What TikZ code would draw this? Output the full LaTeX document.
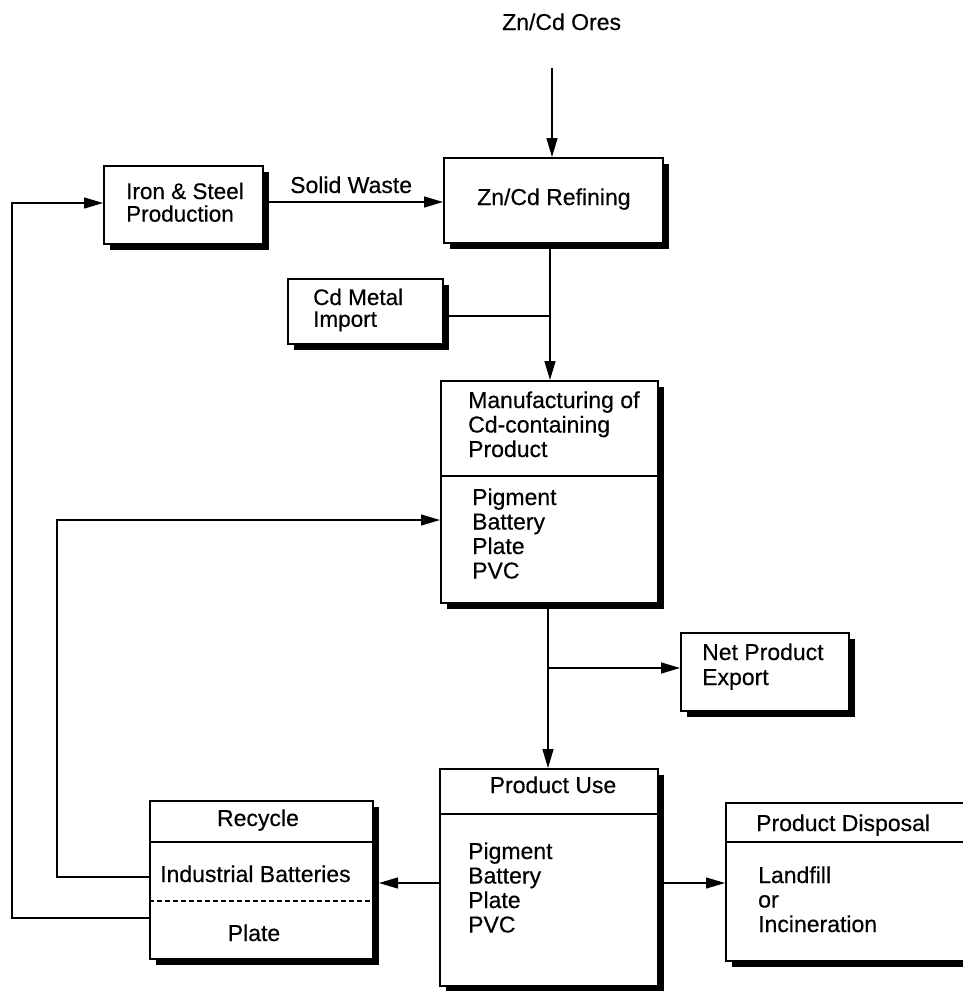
\documentclass[tikz,border=0pt]{standalone}
\usepackage{fontspec}
\setmainfont{Liberation Sans}[FakeBold=0.4]
\usetikzlibrary{arrows.meta,shadows}
\newcommand\lns[1]{\begin{tabular}[t]{@{}l@{}}#1\end{tabular}}
\begin{document}
\begin{tikzpicture}[x=1pt,y=-1pt,
  box/.style={draw, line width=1.5pt, fill=white, inner sep=0pt, anchor=north west,
    general shadow={fill=black, shadow xshift=6pt, shadow yshift=-6.5pt}},
  txt/.style={inner sep=0pt, anchor=base west, font=\fontsize{23}{24.5}\selectfont},
  ctxt/.style={txt, anchor=base},
  conn/.style={line width=1.3pt},
  arr/.style={conn, -{Triangle[length=19pt,width=11pt]}}]
\useasboundingbox (0,0) rectangle (963,991);

% boxes
\node[box, minimum width=159pt, minimum height=78pt] (iron) at (103,165) {};
\node[box, minimum width=219pt, minimum height=85pt] (refine) at (443,157) {};
\node[box, minimum width=155pt, minimum height=65pt] (cdimp) at (287,278) {};
\node[box, minimum width=217pt, minimum height=222pt] (manuf) at (440,380) {};
\node[box, minimum width=168pt, minimum height=78pt] (netexp) at (680,632) {};
\node[box, minimum width=218pt, minimum height=217pt] (use) at (439,768) {};
\node[box, minimum width=223pt, minimum height=158pt] (recycle) at (149,800) {};
\node[box, minimum width=265pt, minimum height=158pt] (disp) at (725,802) {};

% dividers
\draw[line width=1.5pt] (manuf.west |- 0,476) -- (manuf.east |- 0,476);
\draw[line width=1.5pt] (use.west |- 0,814) -- (use.east |- 0,814);
\draw[line width=1.5pt] (recycle.west |- 0,842) -- (recycle.east |- 0,842);
\draw[line width=1.2pt, dash pattern=on 5pt off 3pt] (recycle.west |- 0,901) -- (recycle.east |- 0,901);
\draw[line width=1.5pt] (disp.west |- 0,842) -- (disp.east |- 0,842);

% texts
\node[txt] (ores) at (502,30) {Zn/Cd Ores};
\node[txt] (ironT) at (126,199) {\fontsize{22.5}{21}\selectfont\lns{Iron \& Steel\\Production}};
\node[txt] (sw) at (290,193) {Solid Waste};
\node[txt] (refT) at (477,205) {Zn/Cd Refining};
\node[txt] (cdT) at (313,305) {\fontsize{22.5}{21}\selectfont\lns{Cd Metal\\Import}};
\node[txt] (manT) at (468,408) {\lns{Manufacturing of\\Cd-containing\\Product}};
\node[txt] (manL) at (472,505) {\lns{Pigment\\Battery\\Plate\\PVC}};
\node[txt] (netT) at (702,660) {\fontsize{23}{25}\selectfont\lns{Net Product\\Export}};
\node[ctxt] (useT) at (553,793) {Product Use};
\node[txt] (useL) at (468,859) {\lns{Pigment\\Battery\\Plate\\PVC}};
\node[txt] (dispT) at (756,831) {Product Disposal};
\node[txt] (dispL) at (758,883) {\lns{Landfill\\or\\Incineration}};
\node[ctxt] (recT) at (258,826) {Recycle};
\node[txt] (recB) at (160,882) {Industrial Batteries};
\node[ctxt] (recP) at (254,941) {Plate};

% connectors
\coordinate (oresin) at (552,68);
\draw[arr] (oresin) -- (oresin |- refine.north);
\draw[arr] (iron.east |- 0,202) -- (refine.west |- 0,202);
\coordinate (j1) at (550,316);
\draw[arr] (refine.south -| j1) -- (manuf.north -| j1);
\draw[conn] (cdimp.east |- j1) -- (j1);
\coordinate (j2) at (548,668);
\draw[arr] (manuf.south -| j2) -- (use.north -| j2);
\draw[arr] (j2) -- (netexp.west |- j2);
\draw[arr] (use.west |- 0,883) -- (379,883);
\draw[arr] (663,883) -- (disp.west |- 0,883);
\draw[arr] (recycle.west |- 0,877) -- (57,877) -- (57,520) -- (manuf.west |- 0,520);
\draw[arr] (recycle.west |- 0,918) -- (12,918) -- (12,203) -- (iron.west |- 0,203);
\end{tikzpicture}
\end{document}
